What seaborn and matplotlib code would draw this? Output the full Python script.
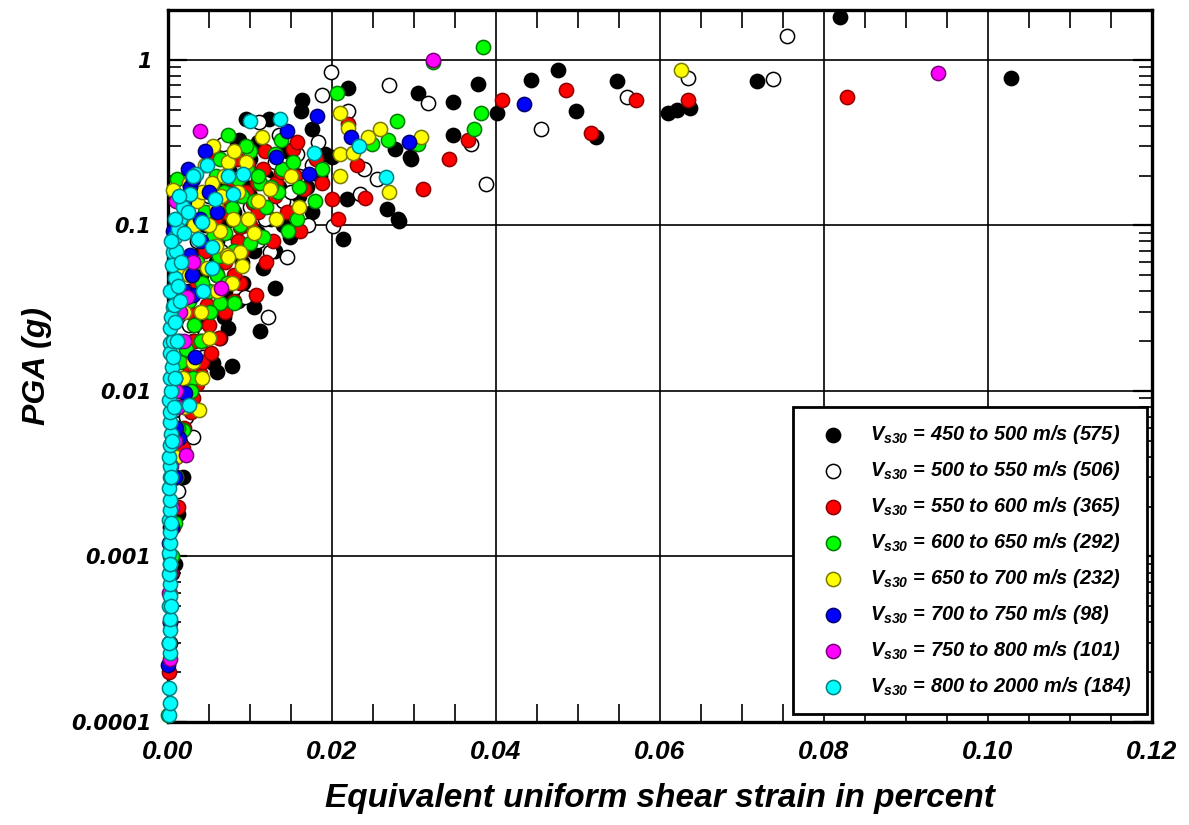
import numpy as np
import matplotlib
matplotlib.use("Agg")
import matplotlib.pyplot as plt
import seaborn as sns
from matplotlib.ticker import FixedLocator, LogLocator, NullFormatter, MultipleLocator

# ---------------------------------------------------------------------------
# Data: (equivalent uniform shear strain [%], PGA [g]) for each Vs30 class
# ---------------------------------------------------------------------------
vs_450_500 = [
    (0.1028, 0.78), (0.0820, 1.82), (0.0718, 0.75), (0.0637, 0.51), (0.0621, 0.50), (0.0610, 0.48),
    (0.0548, 0.75), (0.0522, 0.34), (0.0498, 0.49), (0.0476, 0.87), (0.0443, 0.76), (0.0401, 0.48),
    (0.0378, 0.71), (0.0348, 0.56), (0.0348, 0.35), (0.0305, 0.63), (0.0295, 0.26), (0.0280, 0.11),
    (0.0267, 0.125), (0.0282, 0.107), (0.0220, 0.68), (0.0213, 0.083), (0.0163, 0.57), (0.0162, 0.49),
    (0.0176, 0.38), (0.0277, 0.29), (0.0296, 0.25), (0.0218, 0.145), (0.0191, 0.27), (0.0095, 0.44),
    (0.0123, 0.44), (0.0087, 0.33), (0.0084, 0.30), (0.0149, 0.085), (0.0176, 0.12), (0.0200, 0.26),
    (0.0116, 0.055), (0.0130, 0.042), (0.0105, 0.032), (0.0112, 0.023), (0.0078, 0.0141), (0.0060, 0.013),
    (0.0055, 0.0147), (0.0063, 0.021), (0.0073, 0.024),
    (0.0040, 0.05), (0.0060, 0.08), (0.0080, 0.12), (0.0100, 0.15), (0.0120, 0.20), (0.0050, 0.030),
    (0.0030, 0.020), (0.0020, 0.012), (0.0015, 0.008), (0.0010, 0.005), (0.0007, 0.003), (0.0005, 0.002),
    (0.0003, 0.001), (0.0002, 0.0005), (0.0140, 0.10), (0.0160, 0.15), (0.0130, 0.07), (0.0090, 0.06),
    (0.0070, 0.04), (0.0110, 0.09), (0.0150, 0.22), (0.0185, 0.20), (0.0100, 0.25), (0.0065, 0.18),
    (0.0045, 0.10), (0.0035, 0.065), (0.0025, 0.04), (0.0001, 0.0003), (0.0003, 0.0015), (0.0085, 0.035),
    (0.0095, 0.18), (0.0115, 0.13), (0.0135, 0.17), (0.0155, 0.12), (0.0068, 0.10), (0.0058, 0.06),
    (0.0048, 0.04), (0.0038, 0.025), (0.0028, 0.015), (0.0105, 0.07), (0.0125, 0.11), (0.0170, 0.17),
    (0.0145, 0.28), (0.0110, 0.32), (0.0075, 0.21), (0.0092, 0.045), (0.0068, 0.028), (0.0018, 0.003),
    (0.0012, 0.0018), (0.0008, 0.0009),
]

vs_500_550 = [
    (0.0755, 1.39), (0.0738, 0.77), (0.0634, 0.78), (0.0560, 0.60), (0.0455, 0.38), (0.0388, 0.177),
    (0.0317, 0.55), (0.0270, 0.70), (0.0199, 0.85), (0.0188, 0.61), (0.0220, 0.49), (0.0183, 0.32),
    (0.0370, 0.31), (0.0239, 0.22), (0.0255, 0.19), (0.0201, 0.099), (0.0171, 0.10), (0.0067, 0.31),
    (0.0111, 0.42), (0.0157, 0.27), (0.0234, 0.155), (0.0124, 0.069), (0.0145, 0.064), (0.0122, 0.028),
    (0.0030, 0.0053), (0.0043, 0.016), (0.0094, 0.037),
    (0.0020, 0.010), (0.0010, 0.004), (0.0005, 0.0015), (0.0040, 0.030), (0.0060, 0.050), (0.0080, 0.090),
    (0.0005, 0.0008), (0.0002, 0.0003), (0.0100, 0.130), (0.0120, 0.180), (0.0070, 0.120), (0.0090, 0.200),
    (0.0140, 0.140), (0.0160, 0.200), (0.0035, 0.080), (0.0025, 0.025), (0.0015, 0.006), (0.0110, 0.080),
    (0.0050, 0.150), (0.0130, 0.240),
    (0.0075, 0.16), (0.0085, 0.26), (0.0105, 0.20), (0.0150, 0.16), (0.0118, 0.11), (0.0065, 0.07),
    (0.0055, 0.035), (0.0045, 0.022), (0.0032, 0.012), (0.0022, 0.007), (0.0175, 0.23), (0.0135, 0.35),
    (0.0095, 0.10), (0.0012, 0.0025),
]

vs_550_600 = [
    (0.0828, 0.60), (0.0634, 0.57), (0.0571, 0.57), (0.0516, 0.36), (0.0485, 0.66), (0.0407, 0.57),
    (0.0366, 0.33), (0.0343, 0.25), (0.0311, 0.165), (0.0240, 0.147), (0.0230, 0.23), (0.0220, 0.41),
    (0.0207, 0.109), (0.0200, 0.145), (0.0188, 0.18), (0.0166, 0.165), (0.0152, 0.29), (0.0157, 0.32),
    (0.0116, 0.22), (0.0055, 0.275), (0.0084, 0.25), (0.0132, 0.18), (0.0104, 0.136), (0.0088, 0.098),
    (0.0128, 0.081), (0.0161, 0.093), (0.0057, 0.11), (0.0109, 0.18), (0.0107, 0.038), (0.0088, 0.045),
    (0.0035, 0.011), (0.0039, 0.0128), (0.0027, 0.0133),
    (0.0040, 0.020), (0.0060, 0.040), (0.0070, 0.060), (0.0090, 0.070), (0.0110, 0.120), (0.0130, 0.150),
    (0.0030, 0.009), (0.0020, 0.006), (0.0010, 0.003), (0.0006, 0.0015), (0.0004, 0.0008), (0.0002, 0.0004),
    (0.0030, 0.015), (0.0050, 0.025), (0.0075, 0.140), (0.0045, 0.070), (0.0065, 0.090), (0.0145, 0.120),
    (0.0180, 0.250), (0.0095, 0.160), (0.0035, 0.045), (0.0025, 0.030), (0.0015, 0.010), (0.0001, 0.0002),
    (0.0120, 0.060), (0.0080, 0.035),
    (0.0068, 0.12), (0.0078, 0.19), (0.0098, 0.23), (0.0118, 0.28), (0.0138, 0.21), (0.0058, 0.052),
    (0.0048, 0.033), (0.0042, 0.015), (0.0032, 0.020), (0.0022, 0.012), (0.0100, 0.10), (0.0085, 0.080),
    (0.0062, 0.021), (0.0052, 0.017), (0.0028, 0.0075), (0.0018, 0.0045), (0.0012, 0.002), (0.0155, 0.20),
    (0.0070, 0.030), (0.0080, 0.050),
]

vs_600_650 = [
    (0.0384, 1.20), (0.0323, 0.97), (0.0206, 0.63), (0.0073, 0.35), (0.0138, 0.33), (0.0279, 0.43),
    (0.0268, 0.33), (0.0249, 0.31), (0.0305, 0.31), (0.0382, 0.48), (0.0373, 0.38), (0.0188, 0.22),
    (0.0139, 0.22), (0.0152, 0.24), (0.0096, 0.22), (0.0063, 0.25), (0.0011, 0.19), (0.0112, 0.18),
    (0.0134, 0.158), (0.0179, 0.14), (0.0157, 0.11), (0.0116, 0.085), (0.0146, 0.093), (0.0100, 0.078),
    (0.0078, 0.128), (0.0080, 0.034), (0.0063, 0.034), (0.0051, 0.030), (0.0018, 0.0058), (0.0008, 0.0016),
    (0.0000, 0.00011),
    (0.0040, 0.020), (0.0030, 0.012), (0.0020, 0.008), (0.0010, 0.003), (0.0005, 0.001), (0.0003, 0.0005),
    (0.0060, 0.050), (0.0080, 0.070), (0.0120, 0.130), (0.0050, 0.040), (0.0090, 0.150), (0.0110, 0.200),
    (0.0070, 0.090), (0.0035, 0.060), (0.0025, 0.035), (0.0045, 0.120), (0.0160, 0.170), (0.0100, 0.280),
    (0.0015, 0.015),
    (0.0068, 0.16), (0.0085, 0.19), (0.0105, 0.14), (0.0125, 0.17), (0.0055, 0.085), (0.0042, 0.045),
    (0.0032, 0.025), (0.0062, 0.065), (0.0072, 0.045), (0.0088, 0.10), (0.0022, 0.018), (0.0012, 0.006),
    (0.0130, 0.27), (0.0095, 0.30), (0.0058, 0.20), (0.0028, 0.010),
]

vs_650_700 = [
    (0.0626, 0.87), (0.0210, 0.48), (0.0220, 0.39), (0.0244, 0.34), (0.0259, 0.38), (0.0309, 0.34),
    (0.0210, 0.27), (0.0210, 0.20), (0.0226, 0.275), (0.0270, 0.16), (0.0115, 0.34), (0.0045, 0.23),
    (0.0073, 0.24), (0.0054, 0.18), (0.0150, 0.20), (0.0124, 0.165), (0.0160, 0.13), (0.0132, 0.11),
    (0.0098, 0.11), (0.0079, 0.109), (0.0063, 0.093), (0.0072, 0.066), (0.0088, 0.069), (0.0006, 0.163),
    (0.0050, 0.021), (0.0038, 0.0077), (0.0073, 0.064), (0.0090, 0.057), (0.0078, 0.045),
    (0.0020, 0.008), (0.0010, 0.004), (0.0030, 0.015), (0.0005, 0.0015), (0.0003, 0.0006), (0.0040, 0.030),
    (0.0060, 0.040), (0.0050, 0.100), (0.0030, 0.060), (0.0020, 0.030), (0.0035, 0.140), (0.0110, 0.140),
    (0.0025, 0.180), (0.0065, 0.150), (0.0015, 0.050),
    (0.0042, 0.16), (0.0058, 0.13), (0.0068, 0.20), (0.0085, 0.16), (0.0095, 0.24), (0.0105, 0.09),
    (0.0032, 0.10), (0.0025, 0.05), (0.0048, 0.055), (0.0058, 0.075), (0.0042, 0.012), (0.0018, 0.012),
    (0.0012, 0.02), (0.0080, 0.28), (0.0055, 0.30),
]

vs_700_750 = [
    (0.0434, 0.54), (0.0182, 0.46), (0.0145, 0.37), (0.0132, 0.26), (0.0172, 0.205), (0.0223, 0.34),
    (0.0294, 0.32), (0.0024, 0.22), (0.0027, 0.17), (0.0039, 0.11), (0.0006, 0.093), (0.0027, 0.066),
    (0.0029, 0.050), (0.0030, 0.038), (0.0033, 0.016), (0.0021, 0.0097), (0.0013, 0.0052), (0.0000, 0.00022),
    (0.0008, 0.003), (0.0005, 0.0015), (0.0003, 0.0008), (0.0010, 0.006), (0.0015, 0.020), (0.0020, 0.040),
    (0.0040, 0.080), (0.0060, 0.120), (0.0002, 0.0004), (0.0001, 0.0012),
    (0.0020, 0.14), (0.0030, 0.19), (0.0050, 0.16), (0.0012, 0.035), (0.0008, 0.012), (0.0045, 0.28),
]

vs_750_800 = [
    (0.0939, 0.83), (0.0323, 1.00), (0.0039, 0.37), (0.0065, 0.042), (0.0022, 0.0041), (0.0010, 0.14),
    (0.0023, 0.037), (0.0002, 0.00024),
    (0.0010, 0.010), (0.0005, 0.002), (0.0008, 0.005), (0.0020, 0.020), (0.0015, 0.030), (0.0030, 0.060),
    (0.0003, 0.0008), (0.0012, 0.008), (0.0004, 0.0035), (0.0001, 0.0006),
]

vs_800_2000 = [
    (0.0100, 0.43), (0.0137, 0.44), (0.0178, 0.275), (0.0233, 0.30), (0.0266, 0.195), (0.0034, 0.205),
    (0.0073, 0.20), (0.0091, 0.205), (0.0079, 0.155), (0.0057, 0.145), (0.0027, 0.155), (0.0015, 0.11),
    (0.0041, 0.105), (0.0037, 0.083), (0.0054, 0.074), (0.0006, 0.069), (0.0043, 0.040), (0.0054, 0.055),
    (0.0006, 0.032), (0.0026, 0.0082), (0.0002, 0.0194),
    (0.0001, 0.00011), (0.0002, 0.00013), (0.0001, 0.00016), (0.0002, 0.00026), (0.0001, 0.00030), (0.0003, 0.00036),
    (0.0002, 0.00042), (0.0001, 0.00050), (0.0002, 0.00058), (0.0003, 0.00068), (0.0001, 0.00078), (0.0002, 0.00090),
    (0.0001, 0.00105), (0.0003, 0.00120), (0.0002, 0.00140), (0.0001, 0.00165), (0.0002, 0.00190), (0.0003, 0.00220),
    (0.0001, 0.00260), (0.0002, 0.00300), (0.0003, 0.00350), (0.0001, 0.00400), (0.0002, 0.00470), (0.0004, 0.00550),
    (0.0002, 0.00650), (0.0003, 0.00750), (0.0001, 0.00880), (0.0004, 0.01000), (0.0002, 0.01200), (0.0005, 0.01400),
    (0.0003, 0.01700), (0.0006, 0.02000), (0.0002, 0.02400), (0.0004, 0.02800), (0.0007, 0.03300), (0.0003, 0.04000),
    (0.0008, 0.04800), (0.0005, 0.05800), (0.0010, 0.07000), (0.0009, 0.08500), (0.0012, 0.09500), (0.0006, 0.01600),
    (0.0008, 0.02600), (0.0012, 0.04300), (0.0016, 0.06000), (0.0020, 0.09000), (0.0018, 0.13000), (0.0011, 0.02000),
    (0.0014, 0.15), (0.0024, 0.12), (0.0030, 0.20), (0.0048, 0.23), (0.0008, 0.11), (0.0004, 0.08),
    (0.0015, 0.035), (0.0009, 0.012), (0.0007, 0.008), (0.0005, 0.005), (0.0004, 0.003), (0.0004, 0.0016),
    (0.0003, 0.0009), (0.0004, 0.0005),
]

series_data = [vs_450_500, vs_500_550, vs_550_600, vs_600_650,
               vs_650_700, vs_700_750, vs_750_800, vs_800_2000]
series_labels = [
    r"$V_{s30}$ = 450 to 500 m/s (575)",
    r"$V_{s30}$ = 500 to 550 m/s (506)",
    r"$V_{s30}$ = 550 to 600 m/s (365)",
    r"$V_{s30}$ = 600 to 650 m/s (292)",
    r"$V_{s30}$ = 650 to 700 m/s (232)",
    r"$V_{s30}$ = 700 to 750 m/s (98)",
    r"$V_{s30}$ = 750 to 800 m/s (101)",
    r"$V_{s30}$ = 800 to 2000 m/s (184)",
]
fill_colors = ["#000000", "#ffffff", "#ff0000", "#00ff00",
               "#ffff00", "#0000ff", "#ff00ff", "#00ffff"]
edge_colors = ["#000000", "#000000", "#8b0000", "#007a00",
               "#7a7a00", "#00006e", "#7a007a", "#008080"]

x_ticks = [0.00, 0.02, 0.04, 0.06, 0.08, 0.10, 0.12]
x_tick_labels = ["0.00", "0.02", "0.04", "0.06", "0.08", "0.10", "0.12"]
y_ticks = [0.0001, 0.001, 0.01, 0.1, 1]
y_tick_labels = ["0.0001", "0.001", "0.01", "0.1", "1"]

# ---------------------------------------------------------------------------
# Styling
# ---------------------------------------------------------------------------
sns.set_style("ticks")
plt.rcParams["font.family"] = ["Liberation Sans", "DejaVu Sans"]
plt.rcParams["text.color"] = "black"
plt.rcParams["axes.labelcolor"] = "black"
plt.rcParams["xtick.color"] = "black"
plt.rcParams["ytick.color"] = "black"
plt.rcParams["mathtext.fontset"] = "custom"
plt.rcParams["mathtext.rm"] = "Liberation Sans:bold:italic"
plt.rcParams["mathtext.it"] = "Liberation Sans:bold:italic"
plt.rcParams["mathtext.bf"] = "Liberation Sans:bold:italic"

fig = plt.figure(figsize=(11.89, 8.25), dpi=100)
ax = fig.add_axes([168 / 1189, 1 - 722 / 825, 984 / 1189, 712 / 825])

for pts, lab, fc, ec in zip(series_data, series_labels, fill_colors, edge_colors):
    arr = np.array(pts)
    sns.scatterplot(x=arr[:, 0], y=arr[:, 1], ax=ax, color=fc, edgecolor=ec,
                    linewidth=1.1, s=105, label=lab, zorder=3, clip_on=False,
                    legend=False)

ax.set_yscale("log")
ax.set_xlim(0, 0.12)
ax.set_ylim(1e-4, 2.0)

ax.xaxis.set_major_locator(FixedLocator(x_ticks))
ax.set_xticklabels(x_tick_labels)
ax.xaxis.set_minor_locator(MultipleLocator(0.005))
ax.yaxis.set_major_locator(FixedLocator(y_ticks))
ax.set_yticklabels(y_tick_labels)
ax.yaxis.set_minor_locator(LogLocator(base=10, subs=np.arange(2, 10)))
ax.yaxis.set_minor_formatter(NullFormatter())

ax.grid(True, which="major", color="black", linewidth=1.2, zorder=1)
ax.set_axisbelow(True)

ax.tick_params(which="both", direction="in", top=True, right=True, color="black")
ax.tick_params(axis="x", which="major", length=0, pad=13)
ax.tick_params(axis="x", which="minor", length=13, width=1.2)
ax.tick_params(axis="y", which="major", length=14, width=1.6, pad=12)
ax.tick_params(axis="y", which="minor", length=9.5, width=1.2)

for lbl in ax.get_xticklabels():
    lbl.set_fontfamily(["Liberation Sans"])
    lbl.set_fontsize(19)
    lbl.set_fontweight("bold")
    lbl.set_fontstyle("italic")
    lbl.set_color("black")
for lbl in ax.get_yticklabels():
    lbl.set_fontfamily(["DejaVu Sans"])
    lbl.set_fontsize(15)
    lbl.set_fontweight("bold")
    lbl.set_fontstyle("italic")
    lbl.set_color("black")

for sp in ax.spines.values():
    sp.set_linewidth(2.4)
    sp.set_color("black")

ax.set_xlabel("Equivalent uniform shear strain in percent", fontsize=24,
              fontweight="bold", fontstyle="italic", color="black")
ax.set_ylabel("PGA (g)", fontsize=23, fontweight="bold", fontstyle="italic", color="black")
ax.xaxis.set_label_coords(0.5, -0.085)
ax.yaxis.set_label_coords(-0.118, 0.5)

leg = ax.legend(loc="lower right", bbox_to_anchor=(0.995, 0.011), borderaxespad=0,
                frameon=True, fancybox=False, framealpha=1, edgecolor="black",
                prop=dict(family="Liberation Sans", weight="bold", style="italic", size=14.4),
                borderpad=0.8, labelspacing=0.65, handletextpad=0.65, handlelength=2.4)
leg.get_frame().set_linewidth(2.0)
for t in leg.get_texts():
    t.set_color("black")

fig.savefig("out.png", dpi=100)
